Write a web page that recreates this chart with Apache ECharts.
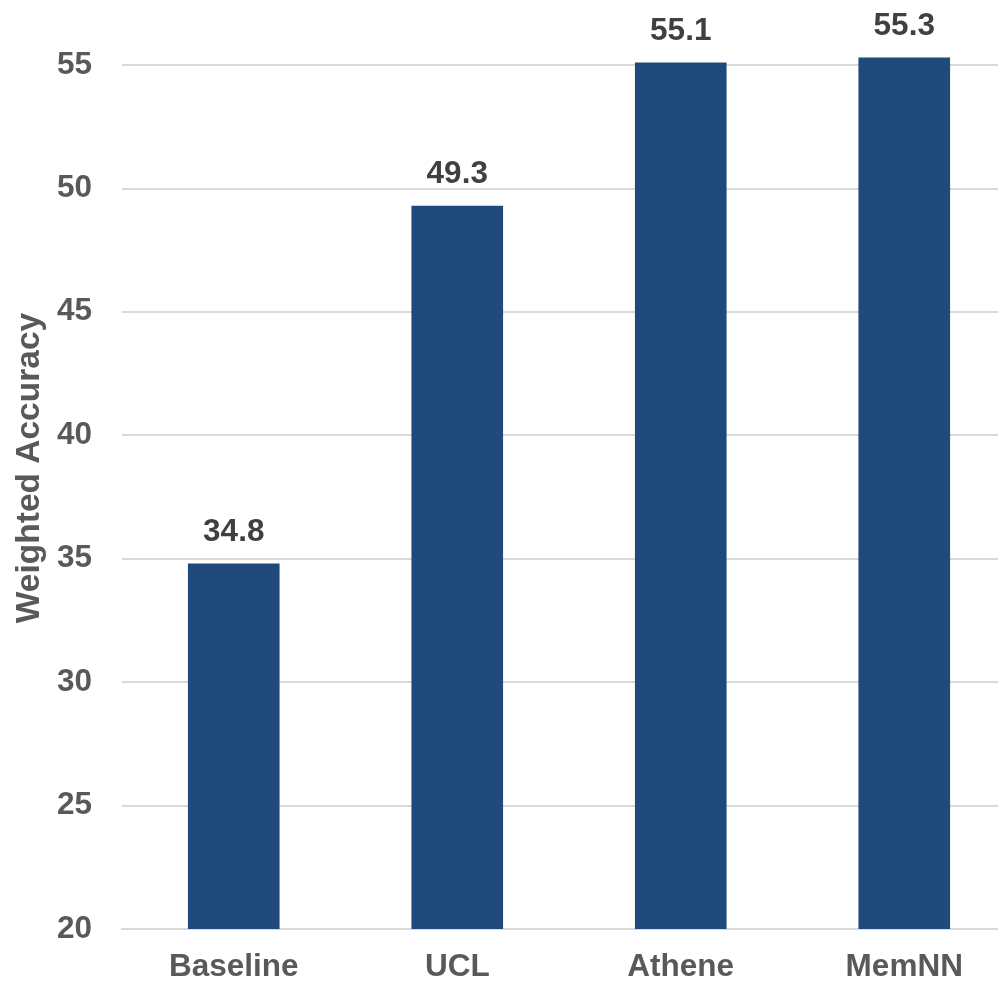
<!DOCTYPE html>
<html>
<head>
<meta charset="utf-8">
<script src="https://cdn.jsdelivr.net/npm/echarts@6/dist/echarts.min.js"></script>
<style>html,body{margin:0;padding:0;background:#fff;}#c{width:998px;height:983px;}</style>
</head>
<body>
<div id="c"></div>
<script>
const categories = ["Baseline", "UCL", "Athene", "MemNN"];
const values = [34.8, 49.3, 55.1, 55.3];
const yTicks = { min: 20, max: 57.63, interval: 5 };
const yAxisTitle = "Weighted Accuracy";

const chart = echarts.init(document.getElementById('c'), null, { renderer: 'canvas' });
const font = '"Liberation Sans", Arial, sans-serif';
chart.setOption({
  animation: false,
  backgroundColor: '#ffffff',
  grid: { left: 122, top: 0, bottom: 54, width: 894, outerBoundsMode: 'none', containLabel: false },
  xAxis: {
    type: 'category',
    data: categories,
    axisLine: { lineStyle: { color: '#d9d9d9', width: 2 } },
    axisTick: { show: false },
    axisLabel: { color: '#595959', fontSize: 31.5, fontWeight: 'bold', fontFamily: font, margin: 22 }
  },
  yAxis: {
    type: 'value',
    min: yTicks.min, max: yTicks.max, interval: yTicks.interval,
    axisLine: { show: false },
    axisTick: { show: false },
    splitLine: { showMaxLine: false, lineStyle: { color: '#d9d9d9', width: 2 } },
    axisLabel: { showMaxLabel: false, color: '#595959', fontSize: 31.5, fontWeight: 'bold', fontFamily: font, margin: 30 }
  },
  graphic: [{
    type: 'text',
    x: 30, y: 468,
    rotation: Math.PI / 2,
    style: {
      text: yAxisTitle,
      fill: '#595959',
      font: 'bold 33.5px ' + font,
      align: 'center',
      verticalAlign: 'middle'
    }
  }],
  series: [{
    type: 'bar',
    data: values,
    barWidth: '41%',
    itemStyle: { color: '#214a7c' },
    label: {
      show: true,
      position: 'top',
      distance: 15,
      color: '#404040',
      fontSize: 31.5,
      fontWeight: 'bold',
      fontFamily: font,
      formatter: p => p.value.toFixed(1)
    }
  }]
});
</script>
</body>
</html>
